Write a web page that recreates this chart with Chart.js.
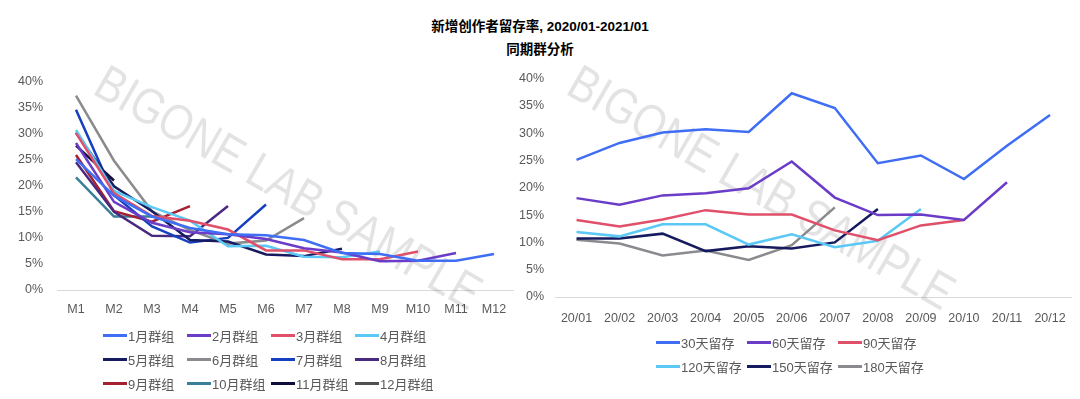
<!DOCTYPE html>
<html>
<head>
<meta charset="utf-8">
<script src="https://cdn.jsdelivr.net/npm/chart.js@4/dist/chart.umd.min.js"></script>
<style>
body{margin:0;width:1080px;height:399px;background:#fff;position:relative;overflow:hidden;font-family:"Liberation Sans","Noto Sans CJK SC",sans-serif}
.title{position:absolute;left:0;width:1080px;text-align:center;font-weight:bold;font-size:13.5px;color:#000}
.box{position:absolute}
.legend{position:absolute;display:grid;font-size:13px;color:#595959;font-family:"Liberation Sans","Noto Sans CJK SC",sans-serif}
.legend div{display:flex;align-items:center;height:24px;white-space:nowrap}
.legend span{display:inline-block;width:24px;height:3px;margin-right:1px}
</style>
</head>
<body>
<div class="title" style="top:15px">新增创作者留存率, 2020/01-2021/01</div>
<div class="title" style="top:38px">同期群分析</div>

<div class="box" style="left:0;top:60px;width:520px;height:265px"><canvas id="cohortChart"></canvas></div>
<div class="box" style="left:515px;top:60px;width:565px;height:272px"><canvas id="monthChart"></canvas></div>
<div class="legend" id="cohortLegend" style="left:103px;top:323px;grid-template-columns:84px 84px 84px 84px"></div>
<div class="legend" id="monthLegend" style="left:656px;top:330px;grid-template-columns:91px 91px 91px"></div>

<script>
//left chart: cohort retention by month since signup
var cohortMonths = ['M1','M2','M3','M4','M5','M6','M7','M8','M9','M10','M11','M12'];
var cohortNames = ['1月群组','2月群组','3月群组','4月群组','5月群组','6月群组','7月群组','8月群组','9月群组','10月群组','11月群组','12月群组'];
var cohort1 = [25.1, 18.1, 14.1, 11.9, 10.7, 10.5, 9.6, 7.1, 6.9, 5.6, 5.6, 6.9];
var cohort2 = [28.2, 16.9, 12.9, 11.1, 10.7, 9.8, 8.0, 7.2, 5.5, 5.6, 7.1];
var cohort3 = [30.1, 18.6, 14.2, 13.3, 11.6, 7.6, 7.6, 5.9, 5.9, 7.4];
var cohort4 = [30.7, 19.0, 15.9, 13.3, 8.4, 8.5, 6.4, 6.3, 7.4];
var cohort5 = [30.2, 19.9, 15.1, 9.6, 9.3, 6.8, 6.5, 7.9];
var cohort6 = [37.3, 24.8, 15.1, 11.5, 8.9, 9.5, 13.8];
var cohort7 = [34.6, 18.2, 12.2, 9.1, 10.0, 16.4];
var cohort8 = [24.5, 15.0, 10.4, 10.3, 16.1];
var cohort9 = [25.9, 15.1, 13.1, 16.1];
var cohort10 = [21.6, 14.1, 14.1];
var cohort11 = [27.7, 21.0];
var cohort12 = [33.3];

//right chart: n-day retention per signup month
var signupMonths = ['20/01','20/02','20/03','20/04','20/05','20/06','20/07','20/08','20/09','20/10','20/11','20/12'];
var retentionNames = ['30天留存','60天留存','90天留存','120天留存','150天留存','180天留存'];
var day30 = [25.1, 28.2, 30.1, 30.7, 30.2, 37.3, 34.6, 24.5, 25.9, 21.6, 27.7, 33.3];
var day60 = [18.1, 16.9, 18.6, 19.0, 19.9, 24.8, 18.2, 15.0, 15.1, 14.1, 21.0];
var day90 = [14.1, 12.9, 14.2, 15.9, 15.1, 15.1, 12.2, 10.4, 13.1, 14.1];
var day120 = [11.9, 11.1, 13.3, 13.3, 9.6, 11.5, 9.1, 10.3, 16.1];
var day150 = [10.7, 10.7, 11.6, 8.4, 9.3, 8.9, 10.0, 16.1];
var day180 = [10.5, 9.8, 7.6, 8.5, 6.8, 9.5, 16.4];

var yTicks = [0, 5, 10, 15, 20, 25, 30, 35, 40];

var cohortColors = ['#3f6ef5','#6a3cc8','#e0506a','#5bc8f5','#161a5e','#8a8a8f','#1640c0','#4a2a80','#a52030','#3a7f97','#0e0e3a','#505050'];
var retentionColors = ['#3f6ef5','#6a3cc8','#e0506a','#5bc8f5','#161a5e','#8a8a8f'];

var tickFont = {family: '"Liberation Sans","Noto Sans CJK SC",sans-serif', size: 12.5};

//light diagonal text behind the lines
var watermark = {
	id: 'watermark',
	beforeDatasetsDraw: function(chart, args, opts){
		var ctx = chart.ctx;
		ctx.save();
		ctx.translate(opts.x, opts.y);
		ctx.rotate(30 * Math.PI / 180);
		ctx.scale(1, 1.2);
		ctx.font = '42px "Liberation Sans"';
		ctx.fillStyle = 'rgba(0,0,0,0.11)';
		ctx.textAlign = 'center';
		ctx.textBaseline = 'middle';
		ctx.fillText('BIGONE LAB SAMPLE', 0, 0);
		ctx.restore();
	}
};

function makeSets(names, series, colors){
	var sets = [];
	for(var i = 0; i < names.length; i++){
		sets.push({
			label: names[i],
			data: series[i],
			borderColor: colors[i],
			backgroundColor: colors[i],
			borderWidth: 2.5,
			pointRadius: 0,
			tension: 0,
			fill: false
		});
	}
	return sets;
}

function makeOptions(yWidth, yPad, padRight, tickPad, wm){
	return {
		responsive: true,
		maintainAspectRatio: false,
		animation: false,
		layout: {padding: {top: 15, right: padRight, left: 0, bottom: 0}},
		plugins: {legend: {display: false}, tooltip: {enabled: false}, watermark: wm},
		scales: {
			x: {
				offset: true,
				grid: {display: false, drawTicks: false},
				border: {color: '#d9d9d9', width: 1},
				ticks: {color: '#595959', font: tickFont, padding: tickPad, maxRotation: 0, autoSkip: false},
				afterFit: function(scale){ scale.height = 35; }
			},
			y: {
				min: 0,
				max: 40,
				grid: {display: false, drawTicks: false},
				border: {display: false},
				afterBuildTicks: function(scale){
					scale.ticks = yTicks.map(function(v){ return {value: v}; });
				},
				ticks: {color: '#595959', font: tickFont, padding: yPad, callback: function(v){ return v + '%'; }},
				afterFit: function(scale){ scale.width = yWidth; }
			}
		}
	};
}

function showLegend(id, names, colors){
	var box = document.getElementById(id);
	for(var i = 0; i < names.length; i++){
		var item = document.createElement('div');
		var line = document.createElement('span');
		line.style.background = colors[i];
		item.appendChild(line);
		item.appendChild(document.createTextNode(names[i]));
		box.appendChild(item);
	}
}

new Chart(document.getElementById('cohortChart'), {
	type: 'line',
	data: {
		labels: cohortMonths,
		datasets: makeSets(cohortNames,
			[cohort1, cohort2, cohort3, cohort4, cohort5, cohort6, cohort7, cohort8, cohort9, cohort10, cohort11, cohort12],
			cohortColors)
	},
	options: makeOptions(57, 14, 7, 12, {x: 287, y: 130}),
	plugins: [watermark]
});

new Chart(document.getElementById('monthChart'), {
	type: 'line',
	data: {
		labels: signupMonths,
		datasets: makeSets(retentionNames, [day30, day60, day90, day120, day150, day180], retentionColors)
	},
	options: makeOptions(40, 11, 8, 14, {x: 245, y: 130}),
	plugins: [watermark]
});

showLegend('cohortLegend', cohortNames, cohortColors);
showLegend('monthLegend', retentionNames, retentionColors);
</script>
</body>
</html>
